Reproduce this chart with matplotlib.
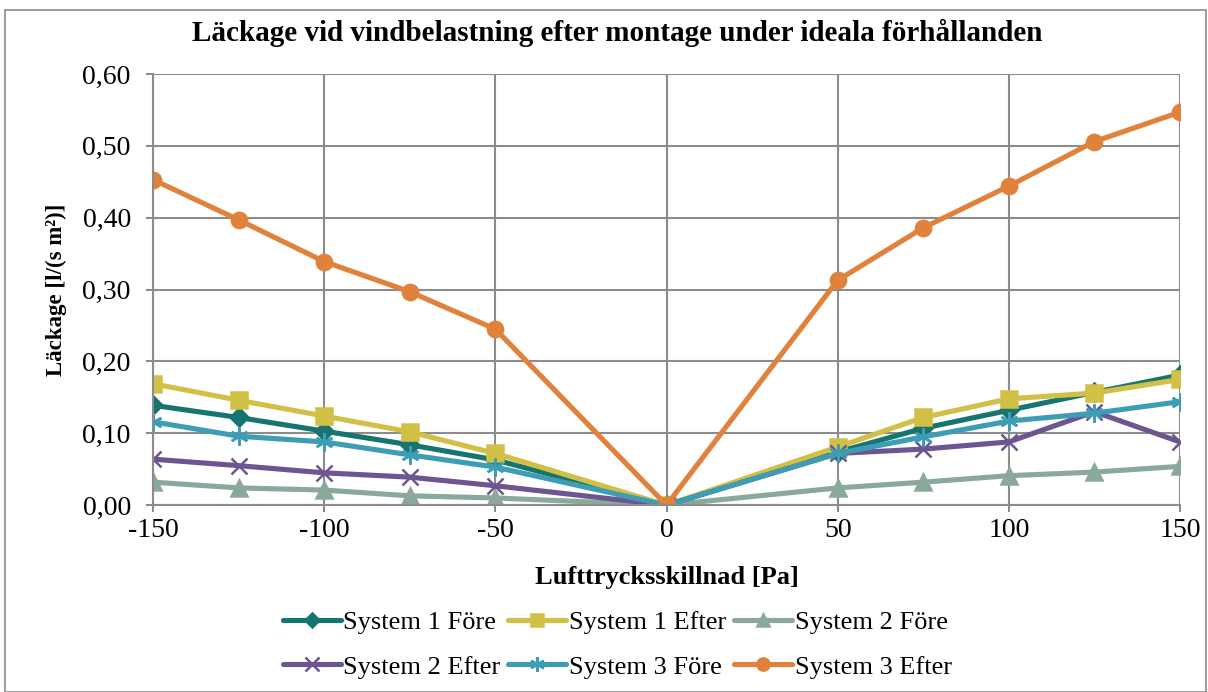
import matplotlib.pyplot as plt
from matplotlib.patches import Rectangle
from matplotlib.ticker import FuncFormatter

plt.rcParams['font.family'] = ['Liberation Serif', 'DejaVu Serif']
plt.rcParams['axes.unicode_minus'] = False

# Lufttrycksskillnad [Pa]
pressure = [-150, -125, -100, -75, -50, 0, 50, 75, 100, 125, 150]

sys1_fore = [0.139, 0.122, 0.103, 0.084, 0.063, 0.0, 0.074, 0.107, 0.132, 0.157, 0.181]
sys1_efter = [0.169, 0.146, 0.124, 0.102, 0.072, 0.0, 0.081, 0.122, 0.148, 0.156, 0.175]
sys2_fore = [0.032, 0.024, 0.021, 0.013, 0.010, 0.0, 0.024, 0.032, 0.041, 0.046, 0.054]
sys2_efter = [0.064, 0.055, 0.045, 0.039, 0.027, 0.0, 0.072, 0.078, 0.088, 0.130, 0.088]
sys3_fore = [0.116, 0.096, 0.088, 0.070, 0.053, 0.0, 0.072, 0.095, 0.117, 0.128, 0.144]
sys3_efter = [0.453, 0.397, 0.339, 0.297, 0.245, 0.0, 0.313, 0.386, 0.444, 0.506, 0.547]

series = [
    ("System 1 Före", sys1_fore, "#17756f", "D", 9),
    ("System 1 Efter", sys1_efter, "#d2bf45", "s", 11),
    ("System 2 Före", sys2_fore, "#8aa99a", "^", 11),
    ("System 2 Efter", sys2_efter, "#6d5591", "x", 12),
    ("System 3 Före", sys3_fore, "#3d9db5", (6, 2, 0), 13),
    ("System 3 Efter", sys3_efter, "#e0823c", "o", 11),
]

fig = plt.figure(figsize=(12.08, 6.92), dpi=100)
ax = fig.add_axes([0.1267, 0.270, 0.8501, 0.623])

lines = []
for name, vals, col, mk, ms in series:
    ln, = ax.plot(pressure, vals, color=col, lw=3.7, marker=mk, ms=ms,
                  mew=1.8, mec=col, mfc=col, label=name, solid_capstyle='round',
                  solid_joinstyle='round')
    lines.append(ln)

ax.set_xlim(-150, 150)
ax.set_ylim(0, 0.6)
ax.set_xticks(range(-150, 151, 50))
ax.set_yticks([i / 10 for i in range(7)])
ax.yaxis.set_major_formatter(FuncFormatter(lambda v, p: f"{v:.2f}".replace(".", ",")))
ax.grid(True, color="#8c8c8c", lw=1.5)
ax.set_axisbelow(True)
for s in ["top", "right"]:
    ax.spines[s].set_visible(False)
for s in ["left", "bottom"]:
    ax.spines[s].set_color("#8c8c8c")
    ax.spines[s].set_linewidth(1.5)
ax.tick_params(axis="both", colors="#8c8c8c", length=5, width=1.5,
               labelsize=20, labelcolor="black")
ax.tick_params(axis="x", pad=4)
ax.tick_params(axis="y", pad=11)

fig.text(0.511, 0.952, "Läckage vid vindbelastning efter montage under ideala förhållanden",
         ha="center", va="center", fontsize=21, fontweight="bold")
ax.set_xlabel("Lufttrycksskillnad [Pa]", fontsize=19, fontweight="bold", labelpad=17)
ax.set_ylabel("Läckage [l/(s m²)]", fontsize=16.5, fontweight="bold", labelpad=11)

# legend fills row by row: reorder for matplotlib's column-wise filling
order = [0, 3, 1, 4, 2, 5]
ax.legend([lines[i] for i in order], [series[i][0] for i in order],
          loc="upper center", bbox_to_anchor=(0.511, 0.133),
          bbox_transform=fig.transFigure, ncol=3, frameon=False,
          fontsize=19, handlelength=2.2, handletextpad=0.1, columnspacing=0.3,
          labelspacing=0.8, borderaxespad=0, markerscale=0.8)

fig.patches.append(Rectangle((0.004, 0.0), 0.994, 0.985, transform=fig.transFigure,
                             fill=False, edgecolor="#8c8c8c", lw=1.2))

fig.savefig("out.png", dpi=100)
